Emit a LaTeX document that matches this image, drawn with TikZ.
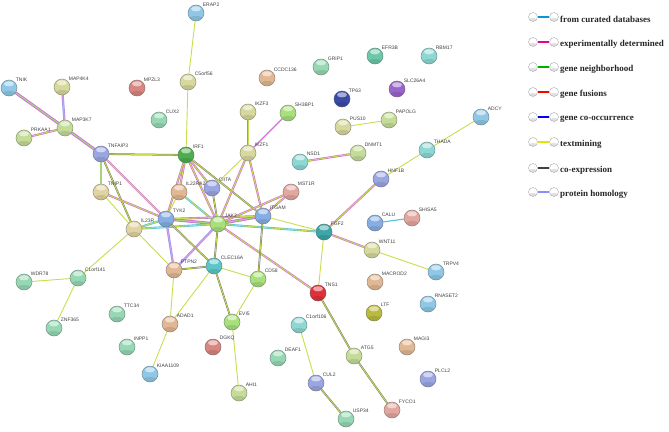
\documentclass[tikz,border=0pt]{standalone}
\usepackage{fontspec}
\setmainfont{Liberation Serif}
\setsansfont{Liberation Sans}
\usepackage{tikz}
\usetikzlibrary{backgrounds}

% ball colours
\definecolor{skyb}{HTML}{8EC8E6}
\definecolor{lilac}{HTML}{9AA6E2}
\definecolor{bluish}{HTML}{86AEE4}
\definecolor{olive}{HTML}{D6D89C}
\definecolor{lgreen}{HTML}{C4DC98}
\definecolor{mint}{HTML}{96D8B4}
\definecolor{teal}{HTML}{8ED8D4}
\definecolor{tan}{HTML}{E2B894}
\definecolor{sand}{HTML}{E2D4A2}
\definecolor{salmon}{HTML}{D88680}
\definecolor{rose}{HTML}{E2A8A0}
\definecolor{dgreen}{HTML}{4CAE4C}
\definecolor{jgreen}{HTML}{A8E07C}
\definecolor{violet}{HTML}{9A64CC}
\definecolor{navy}{HTML}{3A4AA8}
\definecolor{cyanb}{HTML}{5CC6C8}
\definecolor{efrg}{HTML}{6CC8A8}
\definecolor{fteal}{HTML}{3CA6A8}
\definecolor{redb}{HTML}{E0303C}
\definecolor{mustard}{HTML}{BABA3E}
% evidence colours
\definecolor{tmcol}{HTML}{CADC50}
\definecolor{excol}{HTML}{D070D8}
\definecolor{dbcol}{HTML}{50C4E0}
\definecolor{cocol}{HTML}{5A5A4A}
\definecolor{homcol}{HTML}{9A9AF0}

\tikzset{
    prot/.style={circle, fill=#1, draw=#1!55!black!80, line width=0.5pt,
        minimum size=16pt, inner sep=0pt,
        path picture={
            \fill[white, opacity=0.55] ([yshift=4.2pt]path picture bounding box.center)
                ellipse [x radius=5pt, y radius=2.6pt];
            \fill[black, opacity=0.10] ([yshift=-6pt]path picture bounding box.center)
                ellipse [x radius=7pt, y radius=3pt];
        }},
    glbl/.style={font=\sffamily\fontsize{5}{5}\selectfont, text=black!75,
        inner sep=0pt, label distance=1.2pt},
    tm/.style={draw=tmcol, line width=0.9pt},
    ex/.style={draw=excol, line width=1.1pt},
    db/.style={draw=dbcol, line width=1.1pt},
    tmco/.style={draw=cocol!80, double=tmcol, line width=0.5pt, double distance=0.8pt},
    tmex/.style={draw=excol, double=tmcol, line width=0.6pt, double distance=0.9pt},
    tmdb/.style={draw=dbcol, double=tmcol, line width=0.6pt, double distance=0.9pt},
    hom/.style={draw=homcol, double=excol!70, line width=0.7pt, double distance=0.9pt},
    full/.style={draw=excol, double=tmcol!70!dbcol, line width=0.9pt, double distance=1.1pt},
    legball/.style={circle, fill=white, minimum size=9pt,
        inner sep=0pt, draw=black!35, line width=0.4pt,
        path picture={
            \fill[black, opacity=0.12] ([yshift=-3pt]path picture bounding box.center)
                ellipse [x radius=4.5pt, y radius=2pt];
        }},
    legtxt/.style={anchor=west, inner sep=0pt, text=black!85,
        font=\bfseries\fontsize{9}{9}\selectfont}
}

\begin{document}
\begin{tikzpicture}[x=1pt, y=-1pt]
\useasboundingbox (0,0) rectangle (669,431);

% proteins
\node[prot=skyb, label={[glbl]45:TNIK}] (tnik) at (9,88) {};
\node[prot=olive, label={[glbl]45:MAP4K4}] (map4k4) at (62,87) {};
\node[prot=lgreen, label={[glbl]45:MAP3K7}] (map3k7) at (65,128) {};
\node[prot=lgreen, label={[glbl]45:PRKAA1}] (prkaa1) at (24,138) {};
\node[prot=lilac, label={[glbl]45:TNFAIP3}] (tnfaip3) at (101,154) {};
\node[prot=skyb, label={[glbl]45:ERAP2}] (erap2) at (196,13) {};
\node[prot=olive, label={[glbl]45:C5orf56}] (c5orf56) at (188,82) {};
\node[prot=salmon, label={[glbl]45:MPZL3}] (mpzl3) at (137,88) {};
\node[prot=mint, label={[glbl]45:CUX2}] (cux2) at (159,120) {};
\node[prot=dgreen, label={[glbl]45:IRF1}] (irf1) at (186,155) {};
\node[prot=tan, label={[glbl]45:CCDC136}] (ccdc136) at (267,78) {};
\node[prot=mint, label={[glbl]45:GRIP1}] (grip1) at (321,67) {};
\node[prot=efrg, label={[glbl]45:EFR3B}] (efr3b) at (375,56) {};
\node[prot=teal, label={[glbl]45:RBM17}] (rbm17) at (429,56) {};
\node[prot=violet, label={[glbl]45:SLC26A4}] (slc26a4) at (397,89) {};
\node[prot=navy, label={[glbl]45:TP63}] (tp63) at (342,99) {};
\node[prot=olive, label={[glbl]45:IKZF3}] (ikzf3) at (248,112) {};
\node[prot=jgreen, label={[glbl]45:SH3BP1}] (sh3bp1) at (288,113) {};
\node[prot=olive, label={[glbl]45:PUS10}] (pus10) at (343,127) {};
\node[prot=lgreen, label={[glbl]45:PAPOLG}] (papolg) at (389,120) {};
\node[prot=skyb, label={[glbl]45:ADCY}] (adcy) at (481,117) {};
\node[prot=olive, label={[glbl]45:IKZF1}] (ikzf1) at (248,153) {};
\node[prot=lgreen, label={[glbl]45:DNMT1}] (dnmt1) at (358,153) {};
\node[prot=teal, label={[glbl]45:THADA}] (thada) at (427,150) {};
\node[prot=teal, label={[glbl]45:NSD1}] (nsd1) at (300,162) {};
\node[prot=lilac, label={[glbl]45:HNF1B}] (hnf1b) at (381,179) {};
\node[prot=rose, label={[glbl]45:MST1R}] (mst1r) at (291,192) {};
\node[prot=bluish, label={[glbl]45:ITGAM}] (itgam) at (263,216) {};
\node[prot=jgreen, label={[glbl]45:JAK2}] (jak2) at (218,224) {};
\node[prot=lilac, label={[glbl]45:CIITA}] (ciita) at (212,188) {};
\node[prot=tan, label={[glbl]45:IL22RA2}] (il22ra2) at (179,192) {};
\node[prot=bluish, label={[glbl]45:TYK2}] (tyk2) at (166,219) {};
\node[prot=sand, label={[glbl]45:IL23R}] (il23r) at (134,229) {};
\node[prot=sand, label={[glbl]45:TNIP1}] (tnip1) at (101,192) {};
\node[prot=tan, label={[glbl]45:PTPN2}] (ptpn2) at (174,270) {};
\node[prot=cyanb, label={[glbl]45:CLEC16A}] (clec16a) at (214,266) {};
\node[prot=jgreen, label={[glbl]45:CD58}] (cd58) at (258,279) {};
\node[prot=fteal, label={[glbl]45:FGF2}] (fgf2) at (324,232) {};
\node[prot=bluish, label={[glbl]45:CALU}] (calu) at (375,223) {};
\node[prot=rose, label={[glbl]45:SHISA5}] (shisa5) at (412,218) {};
\node[prot=olive, label={[glbl]45:WNT11}] (wnt11) at (372,250) {};
\node[prot=skyb, label={[glbl]45:TRPV4}] (trpv4) at (436,272) {};
\node[prot=tan, label={[glbl]45:MACROD2}] (macrod2) at (375,282) {};
\node[prot=redb, label={[glbl]45:TNS1}] (tns1) at (318,293) {};
\node[prot=skyb, label={[glbl]45:RNASET2}] (rnaset2) at (428,304) {};
\node[prot=mustard, label={[glbl]45:LTF}] (ltf) at (374,313) {};
\node[prot=tan, label={[glbl]45:MAGI3}] (magi3) at (407,347) {};
\node[prot=lilac, label={[glbl]45:PLCL2}] (plcl2) at (428,379) {};
\node[prot=rose, label={[glbl]45:FYCO1}] (fyco1) at (392,410) {};
\node[prot=lgreen, label={[glbl]45:ATG5}] (atg5) at (354,356) {};
\node[prot=teal, label={[glbl]45:C1orf106}] (c1orf106) at (299,325) {};
\node[prot=mint, label={[glbl]45:DEAF1}] (deaf1) at (278,358) {};
\node[prot=lilac, label={[glbl]45:CUL2}] (cul2) at (316,383) {};
\node[prot=mint, label={[glbl]45:USP34}] (usp34) at (346,419) {};
\node[prot=jgreen, label={[glbl]45:EVI5}] (evi5) at (232,322) {};
\node[prot=salmon, label={[glbl]45:DGKQ}] (dgkq) at (213,347) {};
\node[prot=lgreen, label={[glbl]45:AHI1}] (ahi1) at (239,393) {};
\node[prot=tan, label={[glbl]45:ADAD1}] (adad1) at (170,324) {};
\node[prot=skyb, label={[glbl]45:KIAA1109}] (kiaa1109) at (150,374) {};
\node[prot=mint, label={[glbl]45:INPP1}] (inpp1) at (127,347) {};
\node[prot=mint, label={[glbl]45:TTC34}] (ttc34) at (117,314) {};
\node[prot=mint, label={[glbl]45:C1orf141}] (c1orf141) at (78,278) {};
\node[prot=mint, label={[glbl]45:WDR78}] (wdr78) at (24,282) {};
\node[prot=mint, label={[glbl]45:ZNF365}] (znf365) at (54,328) {};

% interactions
\begin{pgfonlayer}{background}
\draw[full] (tnik) -- (map3k7);
\draw[hom] (map4k4) -- (map3k7);
\draw[tmex] (prkaa1) -- (map3k7);
\draw[full] (map3k7) -- (tnfaip3);
\draw[tm] (erap2) -- (c5orf56);
\draw[tm] (c5orf56) -- (irf1);
\draw[tmco] (tnfaip3) -- (irf1);
\draw[full] (tnfaip3) -- (tnip1);
\draw[tmex] (tnfaip3) -- (tyk2);
\draw[tmco] (tnfaip3) -- (il23r);
\draw[tmex] (tnip1) -- (tyk2);
\draw[tm] (tnip1) -- (il23r);
\draw[tmex] (irf1) -- (il22ra2);
\draw[tmex] (irf1) -- (tyk2);
\draw[tmex] (irf1) -- (ciita);
\draw[tmex] (irf1) -- (jak2);
\draw[tmco] (irf1) -- (itgam);
\draw[tmex] (ikzf3) -- (ikzf1);
\draw[ex] (sh3bp1) -- (ikzf1);
\draw[tm] (ikzf1) -- (ciita);
\draw[tmex] (ikzf1) -- (jak2);
\draw[tmex] (ikzf1) -- (itgam);
\draw[tmco] (ciita) -- (jak2);
\draw[tm] (il22ra2) -- (tyk2);
\draw[tmdb] (il22ra2) -- (jak2);
\draw[full] (tyk2) -- (jak2);
\draw[tmdb] (il23r) -- (tyk2);
\draw[tmdb] (il23r) -- (jak2);
\draw[full] (jak2) -- (itgam);
\draw[tmex] (jak2) -- (mst1r);
\draw[tmex] (itgam) -- (mst1r);
\draw[tmex] (tyk2) -- (itgam);
\draw[hom] (tyk2) -- (ptpn2);
\draw[hom] (jak2) -- (ptpn2);
\draw[tmco] (tyk2) -- (clec16a);
\draw[tmco] (jak2) -- (clec16a);
\draw[tmco] (ptpn2) -- (clec16a);
\draw[tm] (il23r) -- (ptpn2);
\draw[tmex] (jak2) -- (tns1);
\draw[tmdb] (jak2) -- (fgf2);
\draw[tm] (itgam) -- (fgf2);
\draw[tmco] (itgam) -- (cd58);
\draw[tm] (il23r) -- (c1orf141);
\draw[tm] (clec16a) -- (cd58);
\draw[tmco] (clec16a) -- (evi5);
\draw[tm] (clec16a) -- (adad1);
\draw[tm] (ptpn2) -- (adad1);
\draw[tm] (cd58) -- (evi5);
\draw[tm] (evi5) -- (ahi1);
\draw[tm] (adad1) -- (kiaa1109);
\draw[tm] (c1orf141) -- (wdr78);
\draw[tm] (c1orf141) -- (znf365);
\draw[tmex] (nsd1) -- (dnmt1);
\draw[tm] (pus10) -- (papolg);
\draw[tm] (adcy) -- (thada);
\draw[tm] (thada) -- (hnf1b);
\draw[tmex] (hnf1b) -- (fgf2);
\draw[db] (calu) -- (shisa5);
\draw[tmex] (fgf2) -- (wnt11);
\draw[tm] (wnt11) -- (trpv4);
\draw[tm] (fgf2) -- (tns1);
\draw[tmco] (tns1) -- (atg5);
\draw[tmco] (atg5) -- (fyco1);
\draw[tm] (c1orf106) -- (cul2);
\draw[tmco] (cul2) -- (usp34);
\end{pgfonlayer}

% legend
\node[legball] (la1) at (533,17) {};  \node[legball] (lb1) at (554,17) {};
\node[legball] (la2) at (533,42) {};  \node[legball] (lb2) at (554,42) {};
\node[legball] (la3) at (533,67) {};  \node[legball] (lb3) at (554,67) {};
\node[legball] (la4) at (533,92) {};  \node[legball] (lb4) at (554,92) {};
\node[legball] (la5) at (533,117) {}; \node[legball] (lb5) at (554,117) {};
\node[legball] (la6) at (533,142) {}; \node[legball] (lb6) at (554,142) {};
\node[legball] (la7) at (533,168) {}; \node[legball] (lb7) at (554,168) {};
\node[legball] (la8) at (533,192) {}; \node[legball] (lb8) at (554,192) {};

\draw[cyan!80!blue, line width=1.4pt] (la1) -- (lb1);
\draw[magenta, line width=1.4pt] (la2) -- (lb2);
\draw[green!70!black, line width=1.4pt] (la3) -- (lb3);
\draw[red, line width=1.4pt] (la4) -- (lb4);
\draw[blue, line width=1.4pt] (la5) -- (lb5);
\draw[yellow!85!green, line width=1.4pt] (la6) -- (lb6);
\draw[black!75, line width=1.4pt] (la7) -- (lb7);
\draw[blue!45!white, line width=1.4pt] (la8) -- (lb8);

\node[legtxt] (t1) at (560,19) {from curated databases};
\node[legtxt] (t2) at (560,44) {experimentally determined};
\node[legtxt] (t3) at (560,69) {gene neighborhood};
\node[legtxt] (t4) at (560,94) {gene fusions};
\node[legtxt] (t5) at (560,119) {gene co-occurrence};
\node[legtxt] (t6) at (560,144) {textmining};
\node[legtxt] (t7) at (560,170) {co-expression};
\node[legtxt] (t8) at (560,194) {protein homology};

\end{tikzpicture}
\end{document}
